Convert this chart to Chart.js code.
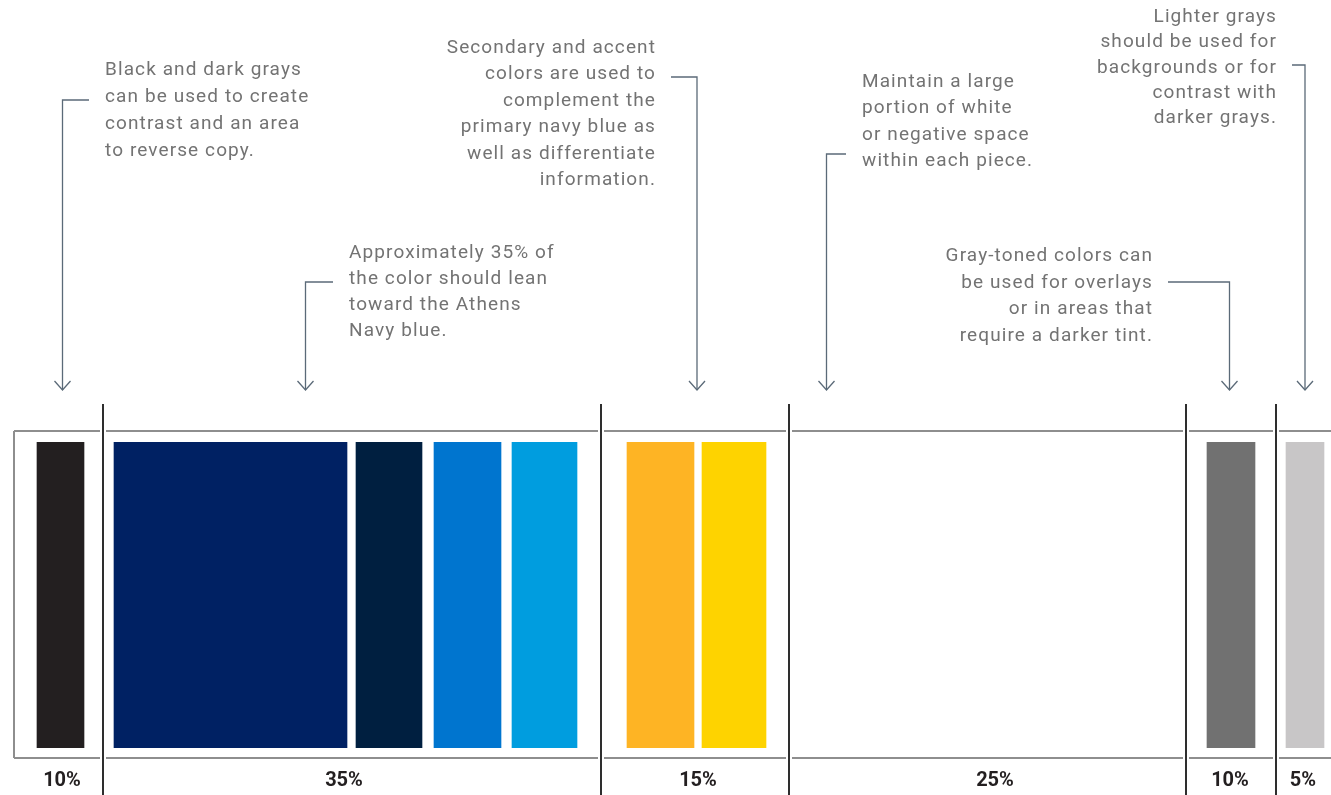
<!DOCTYPE html>
<html>
<head>
<meta charset="utf-8">
<script src="https://cdn.jsdelivr.net/npm/chart.js@4.4.1/dist/chart.umd.min.js"></script>
<style>
  html, body { margin: 0; padding: 0; background: #ffffff; }
  #wrap { width: 1331px; height: 795px; position: relative; }
</style>
</head>
<body>
<div id="wrap"><canvas id="paletteChart" width="1331" height="795"></canvas></div>
<script>
// Section shares (bottom labels) and where their columns sit on the layout axis
const sectionLabels = ['10%', '35%', '15%', '25%', '10%', '5%'];
const sectionLabelX = [62, 344, 698, 995, 1230, 1303];
const sectionBounds = [14, 103, 601, 789, 1186, 1276, 1331];

// Colour swatches: start / end on the layout axis
const swatchStart = [37, 114, 356, 434, 512, 627, 702, 1207, 1286];
const swatchEnd = [84, 347, 422, 501, 577, 694, 766, 1255, 1324];
const swatchColors = ['#231f20', '#002163', '#001f40', '#0075cf', '#009ddf',
                      '#feb424', '#fed300', '#717171', '#c8c6c7'];

// Callout notes
const notes = [
  { lines: ['Black and dark grays', 'can be used to create', 'contrast and an area', 'to reverse copy.'],
    align: 'left', textX: 105, top: 75, lh: 27, arrowX: 62.5, elbowY: 100 },
  { lines: ['Approximately 35% of', 'the color should lean', 'toward the Athens', 'Navy blue.'],
    align: 'left', textX: 349, top: 258, lh: 26, arrowX: 305.5, elbowY: 282 },
  { lines: ['Secondary and accent', 'colors are used to', 'complement the', 'primary navy blue as', 'well as differentiate', 'information.'],
    align: 'right', textX: 655, top: 53, lh: 26.4, arrowX: 697, elbowY: 77 },
  { lines: ['Maintain a large', 'portion of white', 'or negative space', 'within each piece.'],
    align: 'left', textX: 862, top: 87, lh: 26.3, arrowX: 826.5, elbowY: 154 },
  { lines: ['Gray-toned colors can', 'be used for overlays', 'or in areas that', 'require a darker tint.'],
    align: 'right', textX: 1152, top: 261, lh: 26.7, arrowX: 1229.5, elbowY: 282 },
  { lines: ['Lighter grays', 'should be used for', 'backgrounds or for', 'contrast with', 'darker grays.'],
    align: 'right', textX: 1276, top: 22, lh: 25.3, arrowX: 1305, elbowY: 65 }
];

// frames, separators and callouts
const paletteDecor = {
  id: 'paletteDecor',
  afterDraw(chart) {
    const ctx = chart.ctx;
    const x = chart.scales.x;
    const area = chart.chartArea;
    const frameTop = area.top - 11;
    const frameBottom = area.bottom + 10;

    ctx.save();
    // frame lines
    ctx.strokeStyle = '#8e8e8e';
    ctx.lineWidth = 2;
    for (let i = 0; i < sectionBounds.length - 1; i++) {
      const a = x.getPixelForValue(sectionBounds[i]) + (i > 0 ? 3 : 0);
      const b = x.getPixelForValue(sectionBounds[i + 1]) - (i < sectionBounds.length - 2 ? 3 : 0);
      ctx.beginPath();
      ctx.moveTo(a, frameTop);
      ctx.lineTo(b, frameTop);
      ctx.moveTo(a, frameBottom);
      ctx.lineTo(b, frameBottom);
      ctx.stroke();
    }
    const left = x.getPixelForValue(sectionBounds[0]);
    ctx.beginPath();
    ctx.moveTo(left, frameTop);
    ctx.lineTo(left, frameBottom);
    ctx.stroke();

    // separators
    ctx.strokeStyle = '#2e2e2e';
    ctx.lineWidth = 2;
    for (let i = 1; i < sectionBounds.length - 1; i++) {
      const px = x.getPixelForValue(sectionBounds[i]);
      ctx.beginPath();
      ctx.moveTo(px, area.top - 38);
      ctx.lineTo(px, chart.height);
      ctx.stroke();
    }

    // callouts
    const tipY = area.top - 52;
    ctx.font = '19px Roboto';
    ctx.letterSpacing = '1.1px';
    ctx.fillStyle = '#737373';
    ctx.textBaseline = 'alphabetic';
    notes.forEach(n => {
      ctx.textAlign = n.align;
      const tx = n.align === 'right' ? n.textX + 1 : n.textX;
      n.lines.forEach((t, j) => ctx.fillText(t, tx, n.top + j * n.lh));

      const ax = x.getPixelForValue(n.arrowX);
      const ex = n.align === 'left' ? n.textX - 16 : n.textX + 16;
      ctx.strokeStyle = '#5b6a78';
      ctx.lineWidth = 1.3;
      ctx.beginPath();
      ctx.moveTo(ex, n.elbowY);
      ctx.lineTo(ax, n.elbowY);
      ctx.lineTo(ax, tipY);
      ctx.stroke();
      // arrow head
      ctx.beginPath();
      ctx.moveTo(ax - 8, tipY - 9);
      ctx.lineTo(ax, tipY);
      ctx.lineTo(ax + 8, tipY - 9);
      ctx.stroke();
    });
    ctx.restore();
  }
};

const ctx = document.getElementById('paletteChart').getContext('2d');
new Chart(ctx, {
  type: 'bar',
  data: {
    labels: ['palette'],
    datasets: swatchStart.map((s, i) => ({
      label: 'swatch ' + (i + 1),
      data: [[s, swatchEnd[i]]],
      backgroundColor: swatchColors[i],
      borderWidth: 0,
      grouped: false,
      categoryPercentage: 1,
      barPercentage: 1
    }))
  },
  options: {
    indexAxis: 'y',
    responsive: false,
    animation: false,
    layout: { padding: { top: 442, bottom: 0, left: 0, right: 0 } },
    plugins: { legend: { display: false }, tooltip: { enabled: false } },
    scales: {
      y: { type: 'category', display: false },
      x: {
        type: 'linear',
        min: 0,
        max: 1331,
        position: 'bottom',
        grid: { display: false, drawTicks: false },
        border: { display: false },
        afterBuildTicks: axis => { axis.ticks = sectionLabelX.map(v => ({ value: v })); },
        afterFit: axis => {
          axis.paddingLeft = 0;
          axis.paddingRight = 0;
          axis.height = 47;
        },
        ticks: {
          autoSkip: false,
          maxRotation: 0,
          padding: 21,
          color: '#231f20',
          font: { family: 'Roboto', size: 20, weight: 'bold' },
          callback: (v, i) => sectionLabels[i]
        }
      }
    }
  },
  plugins: [paletteDecor]
});
</script>
</body>
</html>
